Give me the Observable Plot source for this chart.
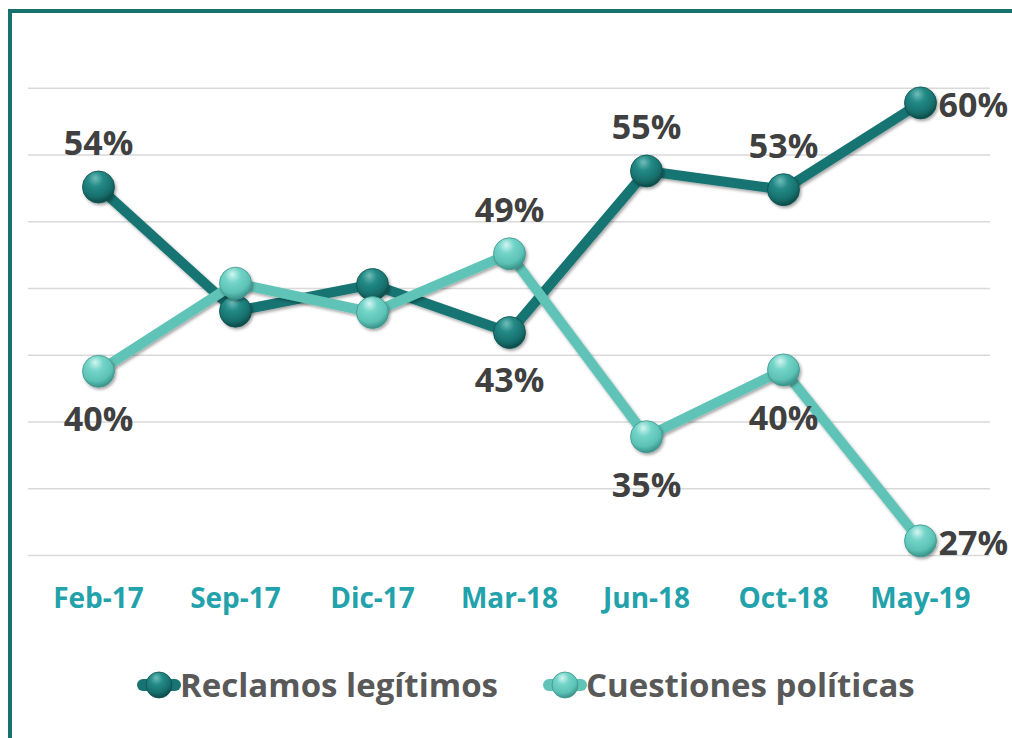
<!DOCTYPE html>
<html>
<head>
<meta charset="utf-8">
<script src="https://cdn.jsdelivr.net/npm/d3@7"></script>
<script src="https://cdn.jsdelivr.net/npm/@observablehq/plot@0.6"></script>
<style>
  html, body { margin: 0; padding: 0; background: #fff; width: 1012px; height: 738px; overflow: hidden; }
  #chart { position: absolute; left: 0; top: 0; }
  #frame { position: absolute; left: 8px; top: 9px; width: 1100px; height: 800px;
           border-left: 4.5px solid #17716e; border-top: 4.5px solid #17716e; box-sizing: border-box; pointer-events: none; }
  #legend { position: absolute; left: 137px; top: 662px; display: flex; align-items: center;
            font-family: "Open Sans", sans-serif; font-weight: 700; font-size: 33px; color: #595959; }
  #legend .item { display: flex; align-items: center; }
  #legend .item + .item { margin-left: 45px; }
  #legend svg { display: block; margin-right: -1px; }
</style>
</head>
<body>
<div id="chart"></div>
<div id="frame"></div>
<div id="legend"></div>
<script>
const months = ["Feb-17", "Sep-17", "Dic-17", "Mar-18", "Jun-18", "Oct-18", "May-19"];
const reclamos = [53.6, 44.3, 46.3, 42.7, 54.8, 53.4, 59.9];
const cuestiones = [39.8, 46.4, 44.2, 48.6, 34.9, 39.9, 27.1];
const seriesNames = ["Reclamos legítimos", "Cuestiones políticas"];
const gridValues = [26, 31, 36, 41, 46, 51, 56, 61];
const labeledMonths = ["Feb-17", "Mar-18", "Jun-18", "Oct-18", "May-19"];

const colorR = "#187472";
const colorC = "#5fc4b7";

const rows = [];
months.forEach((m, i) => {
  rows.push({month: m, value: reclamos[i], series: seriesNames[0], other: cuestiones[i], i});
  rows.push({month: m, value: cuestiones[i], series: seriesNames[1], other: reclamos[i], i});
});
const rowsR = rows.filter(d => d.series === seriesNames[0]);
const rowsC = rows.filter(d => d.series === seriesNames[1]);
const lastMonth = months[months.length - 1];
const lab = rows.filter(d => labeledMonths.includes(d.month));
const labAbove = lab.filter(d => d.month !== lastMonth && d.value > d.other);
const labBelow = lab.filter(d => d.month !== lastMonth && d.value < d.other);
const labRight = lab.filter(d => d.month === lastMonth);
const fmt = d => Math.round(d.value) + "%";

const textStyle = {fontFamily: "'Open Sans', sans-serif", fontWeight: 700, fontSize: 34, fill: "#404040"};

const plot = Plot.plot({
  width: 1012,
  height: 640,
  marginLeft: 28,
  marginRight: 22,
  marginTop: 87.7,
  marginBottom: 85,
  style: {fontFamily: "'Open Sans', sans-serif", background: "transparent", overflow: "visible"},
  x: {type: "point", domain: months, padding: 0.5},
  y: {domain: [26, 61], axis: null},
  marks: [
    Plot.gridY(gridValues, {stroke: "#d9d9d9", strokeOpacity: 1, strokeWidth: 1.5}),
    Plot.axisX({tickSize: 0, tickPadding: 33, fontSize: 28, fontWeight: 700, fill: "#22a2ab", label: null}),
    Plot.line(rowsR, {x: "month", y: "value", stroke: colorR, strokeWidth: 10, strokeLinejoin: "round"}),
    Plot.dot(rowsR, {x: "month", y: "value", r: 16, fill: "url(#gradR)", stroke: "#0d4f4d", strokeWidth: 0.8}),
    Plot.line(rowsC, {x: "month", y: "value", stroke: colorC, strokeWidth: 10, strokeLinejoin: "round"}),
    Plot.dot(rowsC, {x: "month", y: "value", r: 16, fill: "url(#gradC)", stroke: "#3f968c", strokeWidth: 0.8}),
    Plot.text(labAbove, {x: "month", y: "value", text: fmt, dy: -43, lineAnchor: "middle", ...textStyle}),
    Plot.text(labBelow, {x: "month", y: "value", text: fmt, dy: 49, lineAnchor: "middle", ...textStyle}),
    Plot.text(labRight, {x: "month", y: "value", text: fmt, dx: 18, dy: 3, textAnchor: "start", lineAnchor: "middle", ...textStyle})
  ]
});

const defsHTML = `
  <filter id="shadow" x="-20%" y="-20%" width="140%" height="140%">
    <feDropShadow dx="1.5" dy="2" stdDeviation="1.6" flood-color="#000" flood-opacity="0.35"/>
  </filter>
  <radialGradient id="gradR" cx="42%" cy="30%" r="70%" fx="40%" fy="22%">
    <stop offset="0%" stop-color="#6fbdb9"/>
    <stop offset="35%" stop-color="#238a86"/>
    <stop offset="75%" stop-color="#176f6c"/>
    <stop offset="100%" stop-color="#0c4a48"/>
  </radialGradient>
  <radialGradient id="gradC" cx="42%" cy="30%" r="70%" fx="40%" fy="22%">
    <stop offset="0%" stop-color="#d2f6f1"/>
    <stop offset="35%" stop-color="#73d4c8"/>
    <stop offset="75%" stop-color="#5cc2b5"/>
    <stop offset="100%" stop-color="#3a9289"/>
  </radialGradient>`;
const defs = d3.select(plot).insert("defs", ":first-child");
defs.html(defsHTML);
d3.select(plot).selectAll('g[aria-label="line"], g[aria-label="dot"]').attr("filter", "url(#shadow)");
document.getElementById("chart").appendChild(plot);

// legend
const legend = d3.select("#legend");
[[seriesNames[0], colorR, "gradR", "#0d4f4d"], [seriesNames[1], colorC, "gradC", "#3f968c"]].forEach(([name, col, grad, edge]) => {
  const item = legend.append("div").attr("class", "item");
  const s = item.append("svg").attr("width", 44).attr("height", 40);
  s.append("line").attr("x1", 6).attr("x2", 38).attr("y1", 20).attr("y2", 20)
    .attr("stroke", col).attr("stroke-width", 12).attr("stroke-linecap", "round");
  s.append("circle").attr("cx", 22).attr("cy", 20).attr("r", 13)
    .attr("fill", `url(#${grad})`).attr("stroke", edge).attr("stroke-width", 0.8);
  item.append("span").text(name);
});
</script>
</body>
</html>
